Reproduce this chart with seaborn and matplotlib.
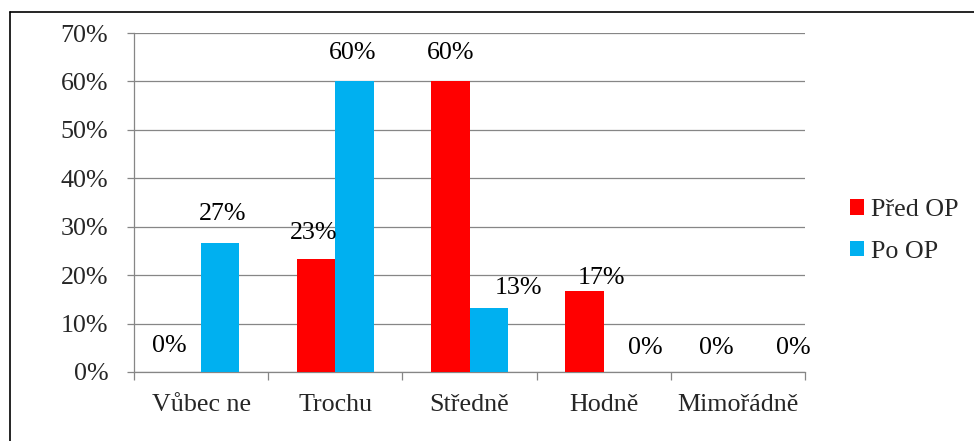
import matplotlib
matplotlib.use("Agg")
import matplotlib.pyplot as plt
from matplotlib.lines import Line2D
from matplotlib.ticker import FixedLocator, PercentFormatter
import seaborn as sns
import pandas as pd

# ---- data ----
categories = ["Vůbec ne", "Trochu", "Středně", "Hodně", "Mimořádně"]
series_names = ["Před OP", "Po OP"]
pred_op = [0.0, 23.3, 60.0, 16.7, 0.0]
po_op = [26.7, 60.0, 13.3, 0.0, 0.0]
y_ticks = [0, 10, 20, 30, 40, 50, 60, 70]

# ---- styling ----
colors = ["#FF0000", "#00B0F0"]
grid_color = "#868686"
# label offsets (dx, dy) in points relative to bar top centre, per series
label_offsets = [
    [(-9, 18.5), (-1.5, 18.5), (0, 20.5), (12, 9.5), (-1.5, 17.5)],
    [(2, 21), (-1, 20.5), (21.5, 14), (16.5, 17.5), (26, 17)],
]

sns.set_theme(style="white")
plt.rcParams["font.family"] = ["Liberation Serif", "DejaVu Serif"]
FS = 18.7

df = pd.DataFrame({
    "cat": categories * 2,
    "val": pred_op + po_op,
    "series": [series_names[0]] * len(categories) + [series_names[1]] * len(categories),
})

fig = plt.figure(figsize=(9.74, 4.41), dpi=100)
ax = fig.add_axes([134 / 974, (441 - 372) / 441, (805 - 134) / 974, (372 - 33) / 441])

sns.barplot(data=df, x="cat", y="val", hue="series", palette=colors,
            width=0.57, gap=0, saturation=1, ax=ax, legend=True,
            linewidth=0, zorder=3)

ax.set_xlim(-0.5, len(categories) - 0.5)
ax.set_ylim(0, 70)
ax.set_xlabel("")
ax.set_ylabel("")

# y axis
ax.yaxis.set_major_locator(FixedLocator(y_ticks))
ax.yaxis.set_major_formatter(PercentFormatter(decimals=0))
ax.tick_params(axis="y", which="major", length=5, width=0.9, color=grid_color,
               labelsize=FS, pad=13.5, left=True)
ax.grid(axis="y", color=grid_color, linewidth=0.9, zorder=0)
ax.grid(axis="x", visible=False)

# x axis: labels at centres, tick marks at boundaries
ax.tick_params(axis="x", which="major", length=0, labelsize=FS, pad=15.5)
ax.set_xticks(range(len(categories)))
ax.set_xticklabels(categories)
ax.set_xticks([i - 0.5 for i in range(len(categories) + 1)], minor=True)
ax.tick_params(axis="x", which="minor", length=5.5, width=0.9, color=grid_color,
               bottom=True)

for s in ["top", "right"]:
    ax.spines[s].set_visible(False)
for s in ["left", "bottom"]:
    ax.spines[s].set_color(grid_color)
    ax.spines[s].set_linewidth(0.9)

# value labels
all_vals = [pred_op, po_op]
for si, cont in enumerate(ax.containers):
    for ci, patch in enumerate(cont.patches):
        v = all_vals[si][ci]
        dx, dy = label_offsets[si][ci]
        ax.annotate(f"{v:.0f}%",
                    xy=(patch.get_x() + patch.get_width() / 2, patch.get_height()),
                    xytext=(dx, dy), textcoords="offset points",
                    ha="center", va="center", fontsize=FS, color="black",
                    zorder=5, annotation_clip=False)

# legend
handles, labels = ax.get_legend_handles_labels()
ax.legend(handles, labels, loc="center left",
          bbox_to_anchor=(850 / 974, (441 - 231) / 441),
          bbox_transform=fig.transFigure, frameon=False, fontsize=FS,
          handlelength=0.55, handleheight=0.55, handletextpad=0.25,
          labelspacing=0.75, borderpad=0, borderaxespad=0)

# outer frame (left & top visible)
fig.add_artist(Line2D([10 / 974, 10 / 974], [0, (441 - 12) / 441],
                      transform=fig.transFigure, color="black", linewidth=1.2))
fig.add_artist(Line2D([10 / 974, 1], [(441 - 12) / 441, (441 - 12) / 441],
                      transform=fig.transFigure, color="black", linewidth=1.2))

fig.savefig("out.png", dpi=100, facecolor="white")
